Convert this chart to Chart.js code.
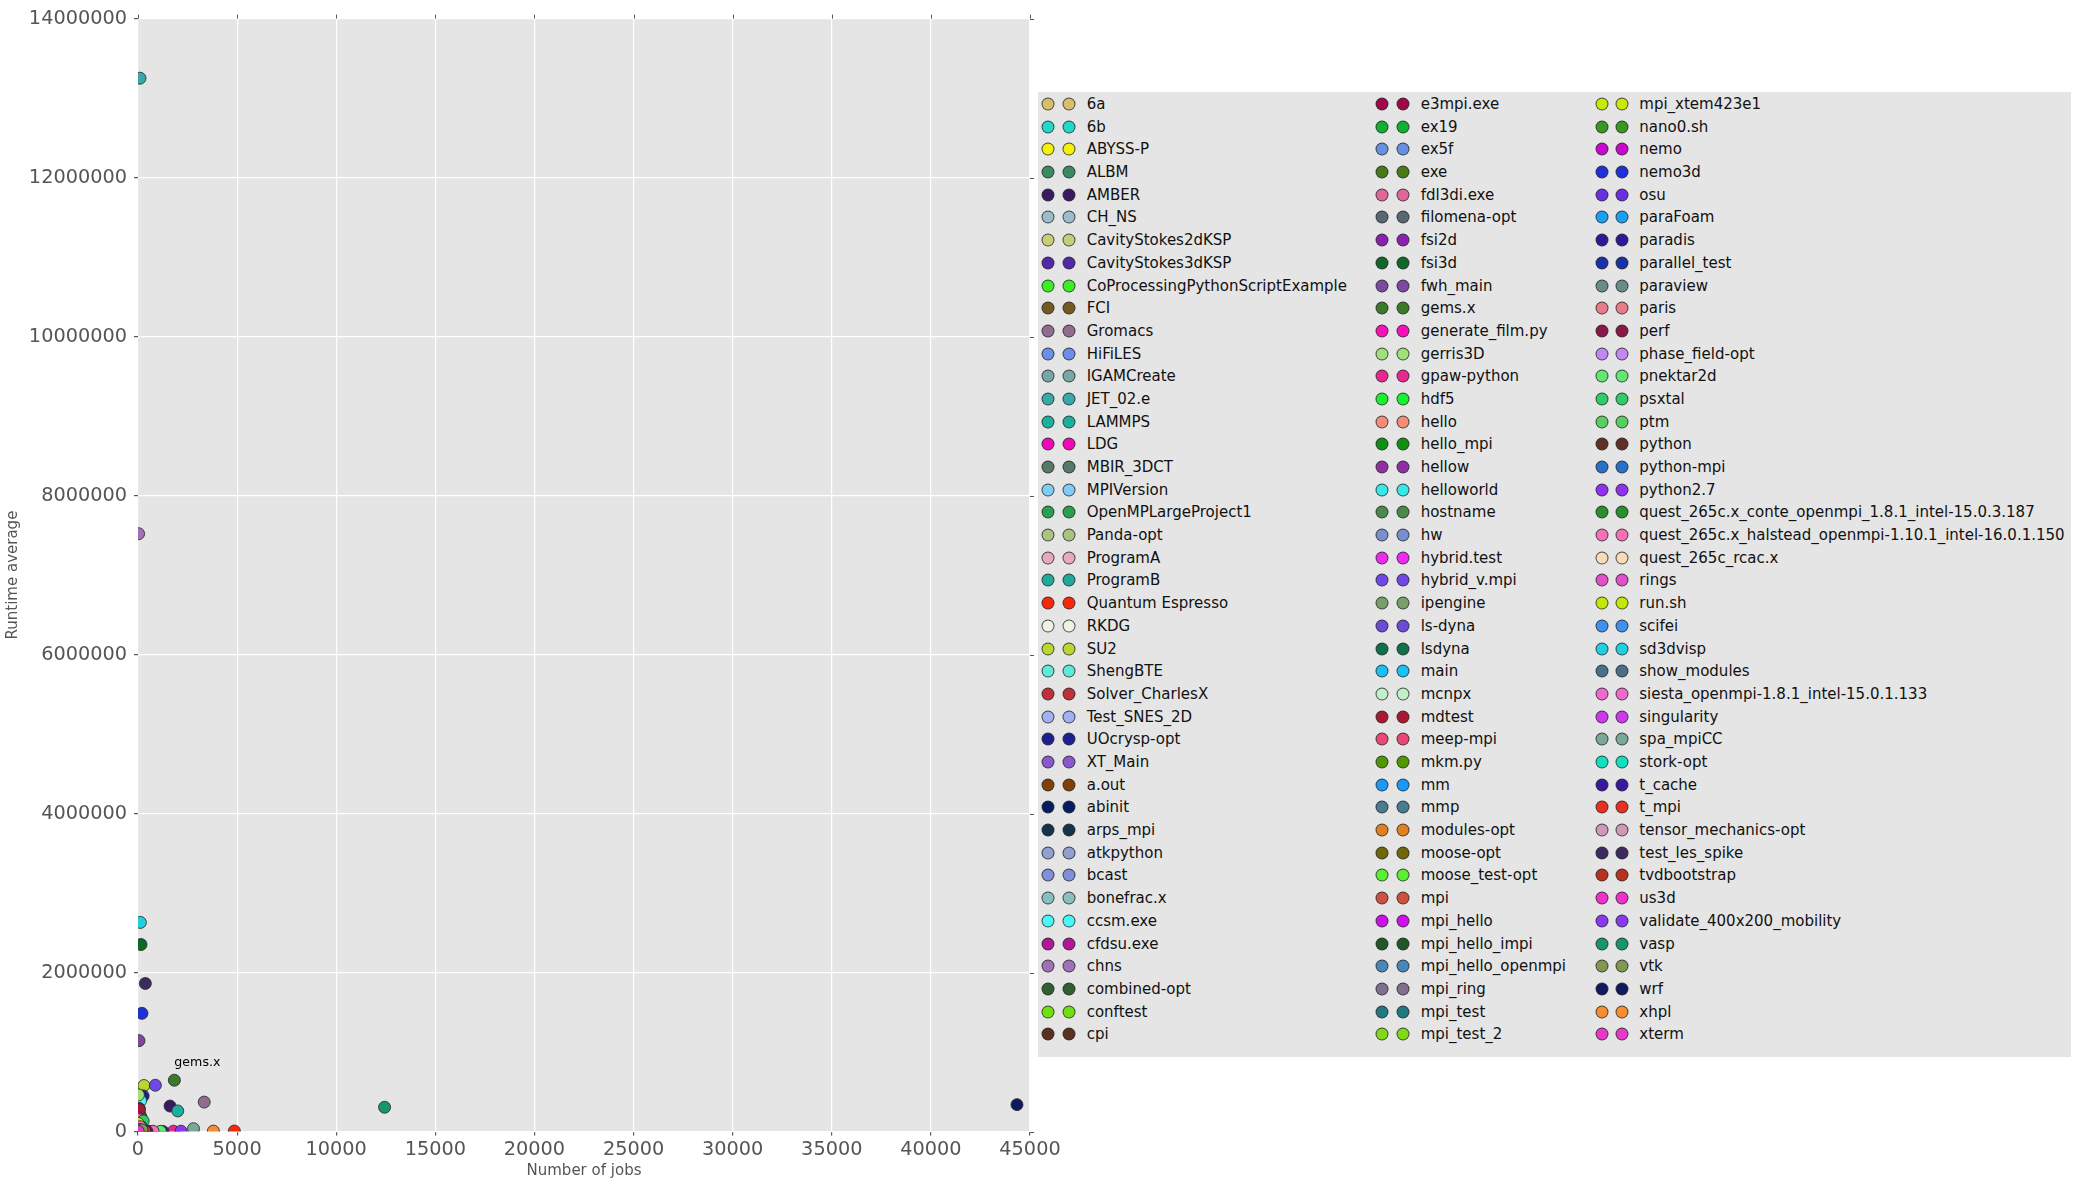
<!DOCTYPE html>
<html>
<head>
<meta charset="utf-8">
<script src="https://cdn.jsdelivr.net/npm/chart.js@4.4.0/dist/chart.umd.min.js"></script>
<style>
html,body{margin:0;padding:0;background:#ffffff;}
#wrap{position:relative;width:2077px;height:1186px;overflow:hidden;}
#c{position:absolute;left:0;top:0;}
#legend{position:absolute;left:1038px;top:92px;width:1033px;height:965px;background:#e5e5e5;font-family:'DejaVu Sans',sans-serif;font-size:15px;color:#111;}
.mk{position:absolute;width:11px;height:11px;border-radius:50%;border:1px solid rgba(50,50,50,0.85);transform:translate(-50%,-50%);}
.lt{position:absolute;white-space:nowrap;line-height:18px;transform:translateY(-50%);}
</style>
</head>
<body>
<div id="wrap">
<canvas id="c" width="2077" height="1186"></canvas>
<div id="legend"></div>
</div>
<script>
const apps = ["6a","6b","ABYSS-P","ALBM","AMBER","CH_NS","CavityStokes2dKSP","CavityStokes3dKSP","CoProcessingPythonScriptExample","FCI","Gromacs","HiFiLES","IGAMCreate","JET_02.e","LAMMPS","LDG","MBIR_3DCT","MPIVersion","OpenMPLargeProject1","Panda-opt","ProgramA","ProgramB","Quantum Espresso","RKDG","SU2","ShengBTE","Solver_CharlesX","Test_SNES_2D","UOcrysp-opt","XT_Main","a.out","abinit","arps_mpi","atkpython","bcast","bonefrac.x","ccsm.exe","cfdsu.exe","chns","combined-opt","conftest","cpi",
"e3mpi.exe","ex19","ex5f","exe","fdl3di.exe","filomena-opt","fsi2d","fsi3d","fwh_main","gems.x","generate_film.py","gerris3D","gpaw-python","hdf5","hello","hello_mpi","hellow","helloworld","hostname","hw","hybrid.test","hybrid_v.mpi","ipengine","ls-dyna","lsdyna","main","mcnpx","mdtest","meep-mpi","mkm.py","mm","mmp","modules-opt","moose-opt","moose_test-opt","mpi","mpi_hello","mpi_hello_impi","mpi_hello_openmpi","mpi_ring","mpi_test","mpi_test_2",
"mpi_xtem423e1","nano0.sh","nemo","nemo3d","osu","paraFoam","paradis","parallel_test","paraview","paris","perf","phase_field-opt","pnektar2d","psxtal","ptm","python","python-mpi","python2.7","quest_265c.x_conte_openmpi_1.8.1_intel-15.0.3.187","quest_265c.x_halstead_openmpi-1.10.1_intel-16.0.1.150","quest_265c_rcac.x","rings","run.sh","scifei","sd3dvisp","show_modules","siesta_openmpi-1.8.1_intel-15.0.1.133","singularity","spa_mpiCC","stork-opt","t_cache","t_mpi","tensor_mechanics-opt","test_les_spike","tvdbootstrap","us3d","validate_400x200_mobility","vasp","vtk","wrf","xhpl","xterm"];

const jobs = [40,25,8,60,1616,12,30,20,5,15,3340,50,90,100,2005,30,10,20,40,70,15,35,4860,25,300,45,60,18,260,80,150,120,30,55,200,90,130,40,30,70,250,110,
60,80,50,100,25,40,20,150,50,1835,10,20,1790,35,140,300,40,90,200,80,45,875,30,150,100,60,60,70,50,20,180,90,400,60,120,240,160,100,130,60,350,220,
50,30,25,200,450,80,1250,300,90,40,70,110,1130,260,600,500,190,400,120,757,90,130,15,60,120,250,110,60,2800,35,450,350,80,370,150,50,2172,12440,200,44343,3803,10];

const runtimes = [60000,20000,90000,30000,320000,40000,15000,25000,1000,80000,370000,70000,10000,13250000,259000,50000,100000,2000,5000,45000,3000,65000,6000,160000,578000,110000,200000,8000,448000,35000,12000,95000,140000,4000,1000,120000,386000,220000,7520000,150000,500,2000,
290000,6000,7000,170000,130000,55000,240000,2352000,1143000,645000,30000,460000,4000,1500,800,1200,250000,20000,800,3000,12000,582000,70000,180000,210000,9000,186000,275000,100000,140000,3000,40000,200,60000,30000,1500,600,400,500,1000,700,900,
90000,110000,170000,1486000,300,120000,1000,800,50000,150000,1200,80000,2000,132000,1500,300,55000,2000,20000,3000,1000,8000,100000,40000,2630000,400,60000,15000,35000,25000,900,500,5000,1862000,10000,3000,4000,305000,20000,338000,5000,1000];

const colors = ["#D9BF6A","#22D8C8","#F5F00A","#3A8A60","#3A1A60","#9ABCCB","#C8CE78","#5028A8","#3AF020","#725A20","#906C8E","#6B8EEA","#78A8A6","#3AA8A8","#1AB0A0","#F008B8","#587868","#80CCF4","#28A050","#A8C480","#E8A8C0","#20A898","#F52A0A","#EEF2E4","#B8D830","#60E8D8","#C03038","#A0B0F0","#1C2090","#8858D0","#804008","#041C60","#14344C","#90A0D0","#8090D8","#88C0C0","#48F8F8","#B01898","#A070B8","#306030","#70E010","#5A3020",
"#A00848","#10B030","#6890E0","#4A7A18","#E06898","#586870","#8A20B0","#106828","#7E48A0","#3A7A2A","#F810B8","#A0E078","#E82890","#18F030","#F48C78","#109010","#9030A0","#38E8E8","#4A8A48","#7890D0","#F028F0","#7048E8","#78A068","#6C4AD8","#107048","#18C0F8","#C0F0C8","#A81830","#E84878","#509800","#1898F8","#487C90","#E08020","#706808","#58F030","#D05040","#D010E8","#205828","#4888B8","#807090","#207880","#80D818",
"#C8E808","#389820","#C808D0","#2030D8","#6830E0","#18A0F8","#301898","#1830A8","#688C88","#E87C88","#881848","#C088F0","#60E870","#30CC68","#58D060","#603028","#2870C8","#9030F0","#289028","#F870B8","#F8DCB8","#E050C8","#C0E808","#4090F0","#20D0E0","#487088","#F068D0","#D038F0","#78A898","#10E0C0","#3818A0","#E83020","#D098B8","#3C2A60","#B83020","#F030C8","#8838F0","#189668","#809850","#101860","#F88C30","#E838C8"];

const xTicks = [0,5000,10000,15000,20000,25000,30000,35000,40000,45000];
const yTicks = [0,2000000,4000000,6000000,8000000,10000000,12000000,14000000];
const annotated = "gems.x";

const datasets = apps.map((name,i)=>({
  label:name,
  data:[{x:jobs[i],y:runtimes[i]}],
  backgroundColor:colors[i],
  borderColor:'rgba(45,45,45,0.85)',
  borderWidth:1,
  pointRadius:6,
  pointHoverRadius:6,
  order:apps.length-i
}));

const bgPlugin = {
  id:'bgPlugin',
  beforeDraw(chart){
    const {ctx, chartArea:a} = chart;
    ctx.save();
    ctx.fillStyle='#e5e5e5';
    ctx.fillRect(a.left,a.top,a.right-a.left,a.bottom-a.top);
    ctx.restore();
  },
  afterDraw(chart){
    const {ctx, chartArea:a, scales} = chart;
    ctx.save();
    ctx.strokeStyle='#555555';
    ctx.lineWidth=1;
    scales.x.ticks.forEach(t=>{
      const px = Math.round(scales.x.getPixelForValue(t.value))+0.5;
      ctx.beginPath(); ctx.moveTo(px,a.top); ctx.lineTo(px,a.top-4); ctx.stroke();
    });
    scales.y.ticks.forEach(t=>{
      const py = Math.round(scales.y.getPixelForValue(t.value))+0.5;
      ctx.beginPath(); ctx.moveTo(a.right,py); ctx.lineTo(a.right+4,py); ctx.stroke();
    });
    ctx.restore();
  },
  afterDatasetsDraw(chart){
    const idx = apps.indexOf(annotated);
    const el = chart.getDatasetMeta(idx).data[0];
    const ctx = chart.ctx;
    ctx.save();
    ctx.font = '12.6px "DejaVu Sans"';
    ctx.fillStyle = '#000';
    ctx.textAlign = 'left';
    ctx.textBaseline = 'middle';
    ctx.fillText(annotated, el.x, el.y - 18);
    ctx.restore();
  }
};

const tickFont = {family:'DejaVu Sans', size:19.3};
const titleFont = {family:'DejaVu Sans', size:15};

new Chart(document.getElementById('c'), {
  type:'scatter',
  data:{datasets},
  options:{
    responsive:false,
    animation:false,
    devicePixelRatio:1,
    events:[],
    layout:{padding:{left:0,top:15,right:1047,bottom:0}},
    plugins:{legend:{display:false},tooltip:{enabled:false}},
    scales:{
      x:{
        type:'linear', min:0, max:45000,
        afterBuildTicks(s){ s.ticks = xTicks.map(v=>({value:v})); },
        afterFit(s){ s.height = 54.5; },
        ticks:{font:tickFont,color:'#555555',padding:3,maxRotation:0,autoSkip:false,callback:v=>String(v)},
        grid:{color:'#ffffff',lineWidth:1.2,tickColor:'#555555',tickLength:4,drawTicks:true},
        border:{display:false},
        title:{display:true,text:'Number of jobs',font:titleFont,color:'#555555',padding:{top:0,bottom:6}}
      },
      y:{
        type:'linear', min:0, max:14000000,
        afterBuildTicks(s){ s.ticks = yTicks.map(v=>({value:v})); },
        afterFit(s){ s.width = 138; },
        ticks:{font:tickFont,color:'#555555',padding:7,autoSkip:false,callback:v=>String(v)},
        grid:{color:'#ffffff',lineWidth:1.2,tickColor:'#555555',tickLength:4,drawTicks:true},
        border:{display:false},
        title:{display:true,text:'Runtime average',font:titleFont,color:'#555555',padding:{top:4,bottom:0}}
      }
    }
  },
  plugins:[bgPlugin]
});

// legend (3 columns, 42 rows, two markers per entry)
const legendEl = document.getElementById('legend');
const perCol = 42;
const colM1 = [10.3, 344.3, 563.7];
const colM2 = [31.3, 365.3, 584.3];
const colT = [48.7, 382.7, 601.3];
apps.forEach((name,i)=>{
  const col = Math.floor(i/perCol), row = i%perCol;
  const cy = 12 + row*22.69;
  [colM1[col], colM2[col]].forEach(cx=>{
    const m = document.createElement('span');
    m.className='mk';
    m.style.left = cx+'px';
    m.style.top = cy+'px';
    m.style.background = colors[i];
    legendEl.appendChild(m);
  });
  const t = document.createElement('span');
  t.className='lt';
  t.style.left = colT[col]+'px';
  t.style.top = cy+'px';
  t.textContent = name;
  legendEl.appendChild(t);
});
</script>
</body>
</html>
